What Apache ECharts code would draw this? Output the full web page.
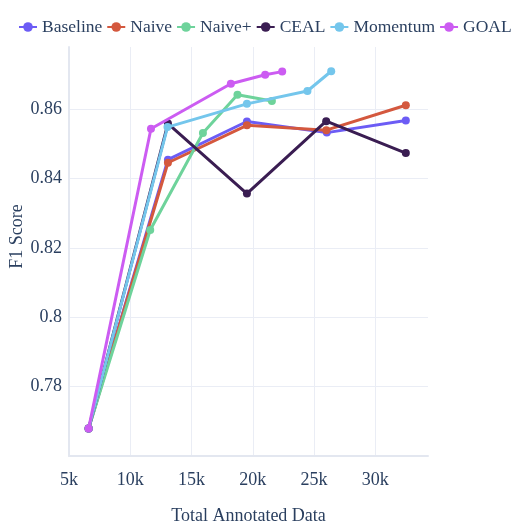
<!DOCTYPE html>
<html>
<head>
<meta charset="utf-8">
<script src="https://cdn.jsdelivr.net/npm/echarts@6/dist/echarts.min.js"></script>
<style>
  html, body { margin: 0; padding: 0; background: #fff; }
  #chart { width: 513px; height: 525px; }
</style>
</head>
<body>
<div id="chart"></div>
<script>
// series names and colours
const seriesNames = ['Baseline', 'Naive', 'Naive+', 'CEAL', 'Momentum', 'GOAL']
const seriesColors = ['#6c5cf5', '#d4583e', '#6ed39b', '#3a1d52', '#74c6ec', '#cc5cf2']

// total annotated data (x) per series
const baselineX = [6600, 13075, 19520, 26040, 32490]
const naiveX = [6600, 13075, 19520, 26000, 32490]
const naivePlusX = [6600, 11630, 15930, 18750, 21560]
const cealX = [6600, 13075, 19520, 25990, 32490]
const momentumX = [6600, 13040, 19520, 24460, 26400]
const goalX = [6600, 11690, 18210, 21010, 22400]

// F1 score (y) per series
const baselineY = [0.7679, 0.8455, 0.8565, 0.8533, 0.8568]
const naiveY = [0.7679, 0.8446, 0.8554, 0.8540, 0.8612]
const naivePlusY = [0.7679, 0.8252, 0.8532, 0.8642, 0.8624]
const cealY = [0.7679, 0.8559, 0.8357, 0.8566, 0.8474]
const momentumY = [0.7679, 0.8549, 0.8616, 0.8653, 0.8710]
const goalY = [0.7679, 0.8544, 0.8674, 0.8700, 0.8709]

const allX = [baselineX, naiveX, naivePlusX, cealX, momentumX, goalX]
const allY = [baselineY, naiveY, naivePlusY, cealY, momentumY, goalY]

const serifFont = 'Liberation Serif'
const textColor = '#2a3f5f'
const gridColor = '#eaedf5'

const chart = echarts.init(document.getElementById('chart'))

chart.setOption({
  animation: false,
  color: seriesColors,
  legend: {
    top: 18,
    left: 18,
    width: 495,
    padding: 0,
    itemWidth: 18,
    itemHeight: 12,
    itemGap: 4,
    textStyle: { fontFamily: serifFont, fontSize: 17.5, color: textColor },
    data: seriesNames,
  },
  grid: {
    left: 69,
    right: 85,
    top: 47,
    bottom: 69,
    outerBoundsMode: 'none',
  },
  xAxis: {
    type: 'value',
    min: 5000,
    max: 34300,
    interval: 5000,
    name: 'Total Annotated Data',
    nameLocation: 'middle',
    nameGap: 51,
    nameMoveOverlap: false,
    nameTextStyle: { fontFamily: serifFont, fontSize: 18, color: textColor },
    axisLine: { show: true, lineStyle: { color: '#e3e7f0', width: 2 } },
    axisTick: { show: false },
    axisLabel: {
      margin: 15,
      fontFamily: serifFont,
      fontSize: 18,
      color: textColor,
      showMaxLabel: false,
      formatter: v => `${Math.round(v / 1000)}k`,
    },
    splitLine: {
      show: true,
      showMinLine: false,
      showMaxLine: false,
      lineStyle: { color: gridColor, width: 1 },
    },
  },
  yAxis: {
    type: 'value',
    min: 0.76,
    max: 0.878,
    interval: 0.02,
    name: 'F1 Score',
    nameLocation: 'middle',
    nameGap: 43,
    nameMoveOverlap: false,
    nameTextStyle: { fontFamily: serifFont, fontSize: 18, color: textColor, padding: [0, 0, 0, 30] },
    axisLine: { show: true, lineStyle: { color: '#e3e7f0', width: 2 } },
    axisTick: { show: false },
    axisLabel: {
      margin: 7,
      fontFamily: serifFont,
      fontSize: 18,
      color: textColor,
      showMinLabel: false,
      showMaxLabel: false,
    },
    splitLine: {
      show: true,
      showMinLine: false,
      showMaxLine: false,
      lineStyle: { color: gridColor, width: 1 },
    },
  },
  series: seriesNames.map((name, i) => ({
    name,
    type: 'line',
    data: allX[i].map((x, j) => [x, allY[i][j]]),
    symbol: 'circle',
    symbolSize: 8,
    lineStyle: { width: 3 },
    itemStyle: { color: seriesColors[i] },
    z: 2 + i,
  })),
})
</script>
</body>
</html>
